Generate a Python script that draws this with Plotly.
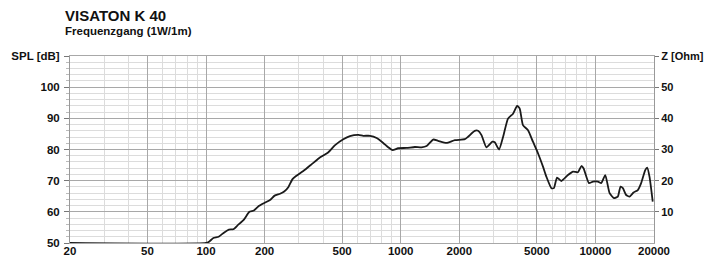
import plotly.graph_objects as go

# ---- data ----
freq_hz = [20, 100, 104, 109, 116, 124, 131, 138, 146, 156, 167, 176, 186, 200, 213, 225,
           240, 252, 265, 278, 290, 316, 349, 380, 425, 460, 507, 548, 606, 642, 695, 752,
           813, 862, 908, 970, 1071, 1183, 1280, 1358, 1468, 1556, 1718, 1897, 2134, 2218,
           2400, 2497, 2600, 2755, 2958, 3041, 3200, 3358, 3557, 3776, 3962, 4085, 4246,
           4508, 4777, 5070, 5380, 5598, 5943, 6120, 6352, 6684, 7228, 7675, 8128, 8472,
           8690, 9260, 9712, 10300, 10710, 11240, 11830, 12450, 13040, 13460, 13840, 14390,
           14970, 15700, 16520, 17180, 18030, 18450, 18960, 19700]
spl_db = [50, 50, 50.5, 51.6, 52.0, 53.4, 54.3, 54.4, 55.8, 57.4, 60.0, 60.4, 61.8, 62.9,
          63.8, 65.2, 65.8, 66.5, 68.0, 70.5, 71.5, 73.1, 75.3, 77.2, 79.1, 81.4, 83.3, 84.3,
          84.7, 84.4, 84.4, 83.7, 82.1, 80.7, 79.8, 80.4, 80.5, 80.8, 80.7, 81.1, 83.2, 82.8,
          82.1, 83.0, 83.3, 84.1, 86.0, 86.0, 84.6, 80.7, 82.5, 82.3, 80.0, 84.1, 89.9, 91.5,
          94.0, 93.1, 87.8, 86.2, 82.5, 78.8, 74.5, 71.3, 67.6, 67.6, 71.0, 69.9, 71.8, 72.9,
          72.7, 74.7, 74.0, 69.2, 69.7, 69.7, 69.2, 71.8, 66.0, 64.4, 64.9, 68.1, 67.6, 65.4,
          64.9, 66.2, 67.0, 69.2, 73.4, 74.2, 71.3, 63.3]

x_major_ticks = [20, 50, 100, 200, 500, 1000, 2000, 5000, 10000, 20000]
x_major_labels = ["20", "50", "100", "200", "500", "1000", "2000", "5000", "10000", "20000"]
x_minor_ticks = [30, 40, 60, 70, 80, 90, 300, 400, 600, 700, 800, 900,
                 3000, 4000, 6000, 7000, 8000, 9000]
spl_ticks = [50, 60, 70, 80, 90, 100, 110]
spl_labels = ["50", "60", "70", "80", "90", "100", "SPL [dB]"]
z_ticks = [10, 20, 30, 40, 50, 60]
z_labels = ["10", "20", "30", "40", "50", "Z [Ohm]"]

title_text = "VISATON K 40"
subtitle_text = "Frequenzgang (1W/1m)"

FONT = "Arial, 'Liberation Sans', sans-serif"
MAJ = "#a8a8a8"
MIN = "#dcdcdc"

fig = go.Figure()
fig.add_trace(go.Scatter(x=freq_hz, y=spl_db, mode="lines",
                         line=dict(color="#1a1a1a", width=1.8, shape="spline", smoothing=0.5),
                         showlegend=False, hoverinfo="skip"))
# invisible trace to anchor the impedance axis
fig.add_trace(go.Scatter(x=[20, 20000], y=[0, 60], yaxis="y2", mode="lines",
                         line=dict(width=0), showlegend=False, hoverinfo="skip", opacity=0))

fig.update_layout(
    width=707, height=255,
    margin=dict(l=69.5, r=52.5, t=55.5, b=11.7),
    paper_bgcolor="white", plot_bgcolor="white",
    font=dict(family=FONT, size=11.5, color="#111111", weight="bold"),
    xaxis=dict(type="log", range=[1.30103, 4.30103], automargin=False,
               tickmode="array", tickvals=x_major_ticks, ticktext=x_major_labels,
               showgrid=True, gridcolor=MAJ, gridwidth=1, ticks="", ticklen=0,
               ticklabelstandoff=-3,
               showline=True, linecolor=MAJ, mirror=True, zeroline=False,
               minor=dict(tickmode="array", tickvals=x_minor_ticks, showgrid=True,
                          gridcolor=MIN, gridwidth=1, ticks=""),
               tickfont=dict(size=11.5, weight="bold")),
    yaxis=dict(range=[50, 110], automargin=False, tickmode="array", tickvals=spl_ticks,
               ticktext=spl_labels,
               showgrid=True, gridcolor=MAJ, gridwidth=1, ticks="outside", ticklen=5,
               tickcolor="#777777", showline=True, linecolor="#999999", zeroline=False,
               minor=dict(dtick=2, tick0=50, showgrid=True, gridcolor=MIN, gridwidth=1,
                          ticks="outside", ticklen=3, tickcolor="#bbbbbb"),
               tickfont=dict(size=11.5, weight="bold"), ticklabelstandoff=2),
    yaxis2=dict(range=[0, 60], automargin=False, overlaying="y", side="right",
                tickmode="array",
                tickvals=z_ticks, ticktext=z_labels, showgrid=False, ticks="outside",
                ticklen=4, tickcolor="#777777", showline=True, linecolor="#999999",
                zeroline=False, tickfont=dict(size=11, weight="bold"), ticklabelstandoff=0),
    annotations=[
        dict(text=title_text, xref="paper", yref="paper", x=-0.0128, y=1.275,
             xanchor="left", yanchor="top", showarrow=False,
             font=dict(size=15, weight="bold", color="#111111")),
        dict(text=subtitle_text, xref="paper", yref="paper", x=-0.0128, y=1.176,
             xanchor="left", yanchor="top", showarrow=False,
             font=dict(size=11.5, weight="bold", color="#111111")),
    ],
)

fig.write_html(
    "out.html",
    config={"displayModeBar": False},
    post_script="document.body.style.margin='0';document.body.style.overflow='hidden';",
)
